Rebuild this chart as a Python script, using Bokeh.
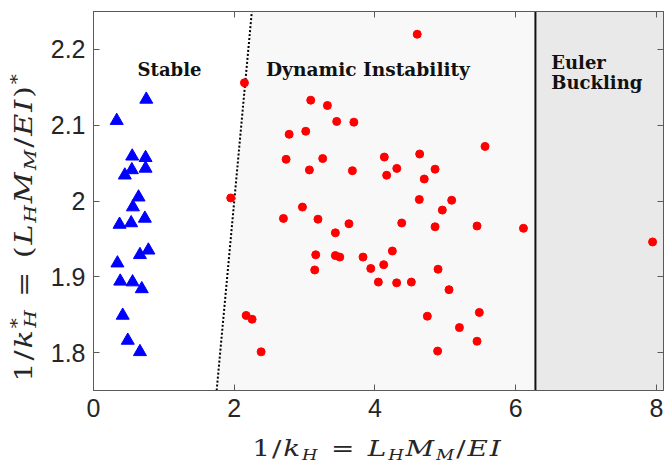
from bokeh.plotting import figure
from bokeh.models import Range1d, FixedTicker, LinearAxis, Label, Div
from bokeh.layouts import row, column
from bokeh.embed import file_html
from bokeh.resources import INLINE

# ---------------- data ----------------
blue_x = [0.75, 0.33, 0.55, 0.74, 0.545, 0.74, 0.445, 0.64, 0.56, 0.37, 0.535,
          0.73, 0.78, 0.66, 0.34, 0.38, 0.555, 0.686, 0.415, 0.487, 0.66]
blue_y = [2.134, 2.106, 2.059, 2.057, 2.041, 2.043, 2.034, 2.005, 1.992, 1.969, 1.971,
          1.977, 1.935, 1.929, 1.918, 1.894, 1.893, 1.884, 1.849, 1.816, 1.801]

red_x = [4.60, 2.145, 3.087, 3.324, 3.456, 3.70, 2.78, 3.016, 2.737, 3.257,
         3.068, 3.679, 4.133, 4.31, 4.166, 4.635, 5.564, 4.854, 4.70, 1.95,
         4.63, 5.09, 4.957, 4.38, 4.854, 5.45, 6.11, 4.896, 4.517, 5.052,
         4.744, 5.483, 5.20, 5.45, 4.89, 2.969, 2.699, 3.19, 3.63, 3.437,
         3.158, 3.437, 3.50, 3.83, 4.247, 4.124, 3.94, 3.144, 4.048, 4.308,
         2.169, 2.254, 2.382, 7.945]
red_y = [2.220, 2.156, 2.133, 2.126, 2.105, 2.104, 2.088, 2.092, 2.055, 2.056,
         2.041, 2.040, 2.058, 2.043, 2.034, 2.062, 2.072, 2.042, 2.029, 2.004,
         2.002, 2.001, 1.988, 1.971, 1.966, 1.967, 1.964, 1.910, 1.893, 1.883,
         1.848, 1.853, 1.833, 1.815, 1.802, 1.992, 1.977, 1.976, 1.970, 1.958,
         1.929, 1.928, 1.926, 1.926, 1.934, 1.916, 1.911, 1.909, 1.893, 1.892,
         1.849, 1.844, 1.801, 1.946]

euler_x = 6.28          # Euler buckling boundary
x_lo, x_hi = 0.0, 8.1
y_lo, y_hi = 1.75, 2.25

x_ticks = [0, 2, 4, 6, 8]
x_tick_labels = ["0", "2", "4", "6", "8"]
y_ticks = [1.8, 1.9, 2.0, 2.1, 2.2]
y_tick_labels = ["1.8", "1.9", "2", "2.1", "2.2"]

region_labels = ["Stable", "Dynamic Instability", "Euler", "Buckling"]

# ---------------- figure ----------------
YLAB_W = 46
XLAB_H = 34
FIG_W = 672 - YLAB_W
FIG_H = 464 - XLAB_H

p = figure(width=FIG_W, height=FIG_H, output_backend="svg", toolbar_location=None,
           x_range=Range1d(x_lo, x_hi), y_range=Range1d(y_lo, y_hi),
           min_border_left=93 - YLAB_W, min_border_right=9, min_border_top=11,
           min_border_bottom=FIG_H - 390, background_fill_color="white",
           border_fill_color="white")
p.xgrid.visible = False
p.ygrid.visible = False
p.outline_line_color = "#5a5a5a"
p.outline_line_width = 1

AX = "#5a5a5a"
TXT = "#262626"
tick_font = "Liberation Sans"

def style_axis(ax, show_labels):
    ax.axis_line_color = AX
    ax.major_tick_line_color = AX
    ax.major_tick_in = 6
    ax.major_tick_out = 0
    ax.minor_tick_line_color = None
    ax.major_label_text_font = tick_font
    if show_labels:
        ax.major_label_text_color = TXT
        ax.major_label_text_font_size = "25px"
        ax.major_label_standoff = 8
    else:
        ax.major_label_text_color = None
        ax.major_label_text_font_size = "1px"
        ax.major_label_standoff = 0

p.xaxis.ticker = FixedTicker(ticks=x_ticks)
p.yaxis.ticker = FixedTicker(ticks=y_ticks)
p.xaxis.major_label_overrides = {float(t): l for t, l in zip(x_ticks, x_tick_labels)}
p.yaxis.major_label_overrides = {float(t): l for t, l in zip(y_ticks, y_tick_labels)}
style_axis(p.xaxis[0], True)
style_axis(p.yaxis[0], True)

top_ax = LinearAxis(ticker=FixedTicker(ticks=x_ticks))
right_ax = LinearAxis(ticker=FixedTicker(ticks=y_ticks))
style_axis(top_ax, False)
style_axis(right_ax, False)
p.add_layout(top_ax, "above")
p.add_layout(right_ax, "right")

# ---------------- regions ----------------
dyn_xs = [y_lo, euler_x, euler_x, y_hi]
dyn_ys = [y_lo, y_lo, y_hi, y_hi]
p.patch(dyn_xs, dyn_ys, fill_color="#f8f8f8", line_color=None)
eul_xs = [euler_x, x_hi, x_hi, euler_x]
eul_ys = [y_lo, y_lo, y_hi, y_hi]
p.patch(eul_xs, eul_ys, fill_color="#e9e9e9", line_color=None)

# stability boundary (1/k_H = 1/k_H*)
p.line([y_lo, y_hi], [y_lo, y_hi], line_color="black", line_width=2, line_dash="2 2")
# Euler boundary
p.line([euler_x, euler_x], [y_lo, y_hi], line_color="#111111", line_width=2)

# ---------------- points ----------------
p.scatter(blue_x, blue_y, marker="triangle", size=13, fill_color="blue", line_color="blue")
p.scatter(red_x, red_y, marker="circle", size=8, fill_color="red", line_color="red")

# ---------------- region labels ----------------
lab_font = "DejaVu Serif"
for txt, x, y, al, sz in [(region_labels[0], 1.08, 2.174, "center", "18px"),
                          (region_labels[1], 3.9, 2.173, "center", "18.6px"),
                          (region_labels[2], 6.505, 2.183, "left", "18px"),
                          (region_labels[3], 6.505, 2.156, "left", "18px")]:
    p.add_layout(Label(x=x, y=y, text=txt, text_font=lab_font, text_font_style="bold",
                       text_font_size=sz, text_align=al, text_baseline="alphabetic",
                       text_color="#111111"))

# ---------------- axis labels (HTML with sub/superscripts) ----------------
MATH_FONT = "'DejaVu Serif'"

def sub(t, sz):
    return (f'<span style="font-size:{sz}px;vertical-align:-4px;line-height:0;'
            f'font-style:italic">{t}</span>')

def sup(t, sz, extra=""):
    return (f'<span style="font-size:{sz}px;vertical-align:9px;line-height:0;{extra}">'
            f'{t}</span>')

EQ = '<span style="margin:0 9px">=</span>'

# x label: 1/k_H = L_H M_M / EI
xs_sub = 14
x_label_html = (
    f'<div style="width:672px;height:{XLAB_H}px;box-sizing:border-box;padding-left:83px;'
    f'padding-top:4px;text-align:center;font-family:{MATH_FONT};font-size:22px;'
    f'letter-spacing:1.5px;line-height:30px;color:{TXT};white-space:nowrap;'
    f'transform:scaleX(1.27);transform-origin:377.5px 50%;">'
    f'1/<i>k</i>{sub("H", xs_sub)}{EQ}'
    f'<i>L</i>{sub("H", xs_sub)}<i>M</i>{sub("M", xs_sub)}/<i>EI</i>'
    '</div>'
)

# y label: 1/k*_H = (L_H M_M / EI)*
ys_sub = 16
y_label_html = (
    f'<div style="position:relative;width:{YLAB_W}px;height:{FIG_H}px;">'
    f'<div style="position:absolute;width:{FIG_H}px;height:{YLAB_W}px;'
    f'left:{(YLAB_W - FIG_H) / 2}px;top:{(FIG_H - YLAB_W) / 2}px;'
    f'transform:rotate(-90deg) scaleX(1.26);'
    f'box-sizing:border-box;padding-right:19px;text-align:center;'
    f'font-family:{MATH_FONT};font-size:24px;letter-spacing:1.5px;line-height:48px;'
    f'color:{TXT};white-space:nowrap;">'
    f'1/<i>k</i>{sup("*", ys_sub)}'
    f'<span style="margin-left:-9px">{sub("H", ys_sub)}</span>'
    f'{EQ}(<i>L</i>{sub("H", ys_sub)}<i>M</i>{sub("M", ys_sub)}/<i>EI</i>){sup("*", ys_sub)}'
    '</div></div>'
)

ydiv = Div(text=y_label_html, width=YLAB_W, height=FIG_H, margin=(0, 0, 0, 0))
xdiv = Div(text=x_label_html, width=672, height=XLAB_H, margin=(0, 0, 0, 0))

layout = column(row(ydiv, p, spacing=0), xdiv, spacing=0)

open("out.html", "w").write(file_html(layout, INLINE))
